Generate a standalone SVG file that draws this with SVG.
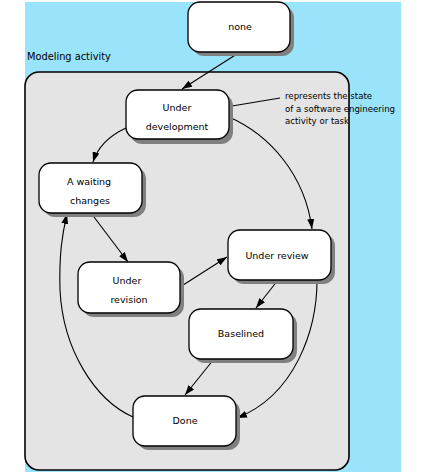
<svg xmlns="http://www.w3.org/2000/svg" width="442" height="472" viewBox="0 0 442 472">
<style>
.t{font-family:"DejaVu Sans",Verdana,sans-serif;font-size:9.5px;fill:#000;text-anchor:middle}
.a{font-family:"DejaVu Sans",Verdana,sans-serif;font-size:8.6px;fill:#000}
.box{fill:#fff;stroke:#000;stroke-width:1.3}
.sh{fill:#808080}
.c{fill:none;stroke:#000;stroke-width:1.1}
</style>
<defs>
<marker id="ar" markerWidth="10" markerHeight="7" refX="10" refY="3.5" orient="auto" markerUnits="userSpaceOnUse">
<path d="M0,0 L10,3.5 L0,7 z" fill="#000"/>
</marker>
</defs>
<rect x="0" y="0" width="442" height="472" fill="#fff"/>
<rect x="25" y="2" width="376" height="470" fill="#99e3fb"/>
<text x="27" y="60" style="font-family:'DejaVu Sans',Verdana,sans-serif;font-size:9.8px">Modeling activity</text>
<rect id="container-fill" x="25" y="72" width="324" height="398" rx="14" fill="#e4e4e4"/>
<text class="a" x="285" y="99">represents the state</text>
<text class="a" x="285" y="112">of a software engineering</text>
<text class="a" x="285" y="124">activity or task</text>
<rect id="container" x="25" y="72" width="324" height="398" rx="14" fill="none" stroke="#000" stroke-width="1.6"/>

<g id="connectors">
<path class="c" d="M240,52 L182,89" marker-end="url(#ar)"/>
<path class="c" d="M220,108 L280,98"/>
<path class="c" d="M126,128 Q100,140 93,162" marker-end="url(#ar)"/>
<path class="c" d="M229,117 C270,135 305,175 312,229" marker-end="url(#ar)"/>
<path class="c" d="M91,213 L128,262" marker-end="url(#ar)"/>
<path class="c" d="M180,287 L227,257" marker-end="url(#ar)"/>
<path class="c" d="M278,280 L256,308" marker-end="url(#ar)"/>
<path class="c" d="M317,280 C317,330 295,395 237,418" marker-end="url(#ar)"/>
<path class="c" d="M214,359 L185,395" marker-end="url(#ar)"/>
<path class="c" d="M133,417 C95,400 63,350 60,290 C59,255 62,235 67,214" marker-end="url(#ar)"/>
</g>

<g id="none">
<rect class="sh" x="192" y="6" width="102" height="50" rx="12"/>
<rect class="box" x="188" y="2" width="102" height="50" rx="12"/>
<text class="t" x="240" y="30">none</text>
</g>
<g id="under-development">
<rect class="sh" x="130" y="94" width="103" height="50" rx="12"/>
<rect class="box" x="126" y="90" width="103" height="49" rx="12"/>
<text class="t" x="177" y="111">Under</text>
<text class="t" x="177" y="130">development</text>
</g>
<g id="awaiting-changes">
<rect class="sh" x="43" y="167" width="103" height="50" rx="12"/>
<rect class="box" x="39" y="163" width="103" height="50" rx="12"/>
<text class="t" x="89" y="185">A waiting</text>
<text class="t" x="90" y="204">changes</text>
</g>
<g id="under-revision">
<rect class="sh" x="82" y="266" width="102" height="51" rx="12"/>
<rect class="box" x="78" y="262" width="102" height="51" rx="12"/>
<text class="t" x="127" y="284">Under</text>
<text class="t" x="129" y="303">revision</text>
</g>
<g id="under-review">
<rect class="sh" x="232" y="234" width="103" height="50" rx="12"/>
<rect class="box" x="228" y="230" width="103" height="50" rx="12"/>
<text class="t" x="277" y="259">Under review</text>
</g>
<g id="baselined">
<rect class="sh" x="193" y="313" width="104" height="50" rx="12"/>
<rect class="box" x="189" y="309" width="104" height="50" rx="12"/>
<text class="t" x="241" y="337">Baselined</text>
</g>
<g id="done">
<rect class="sh" x="137" y="400" width="103" height="50" rx="12"/>
<rect class="box" x="133" y="396" width="103" height="50" rx="12"/>
<text class="t" x="185" y="424">Done</text>
</g>
</svg>
